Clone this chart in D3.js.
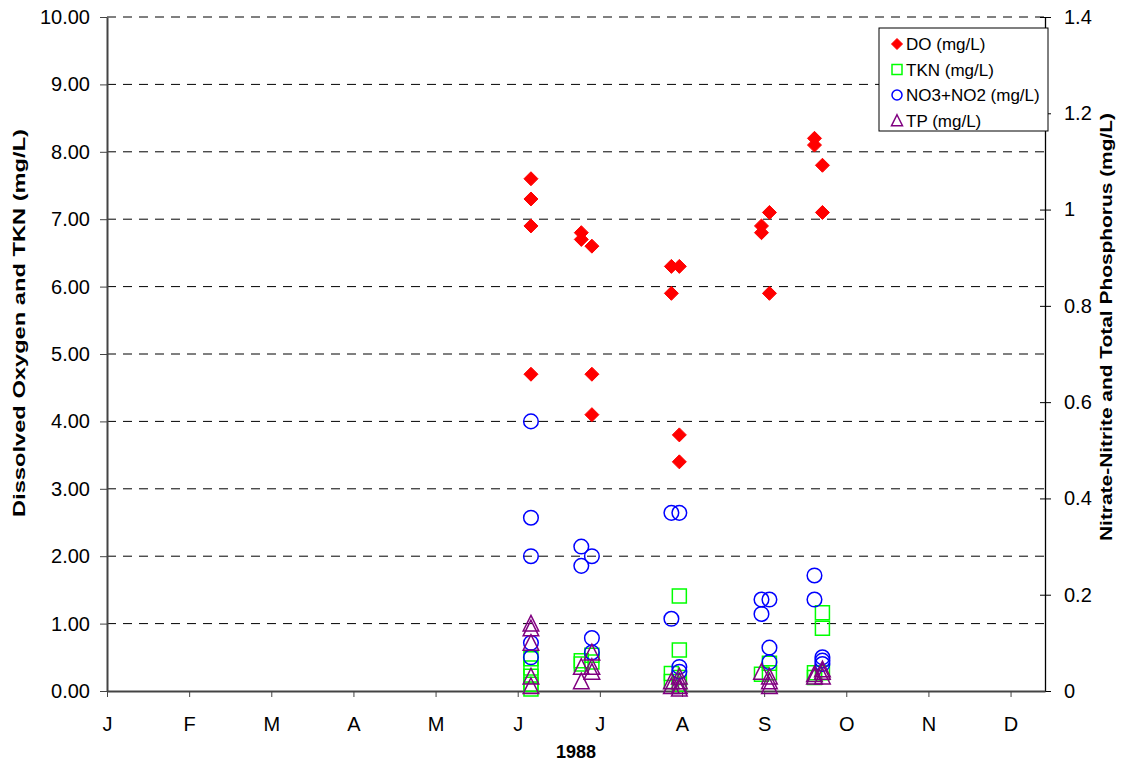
<!DOCTYPE html>
<html>
<head>
<meta charset="utf-8">
<script src="https://cdn.jsdelivr.net/npm/d3@7"></script>
<style>
  body { margin: 0; background: #fff; }
  text { font-family: "Liberation Sans", Arial, sans-serif; fill: #000; }
</style>
</head>
<body>
<svg id="chart" width="1122" height="765"></svg>
<script>
// ---- data ----
const monthLabels = ["J", "F", "M", "A", "M", "J", "J", "A", "S", "O", "N", "D"];
const leftTicks = [0, 1, 2, 3, 4, 5, 6, 7, 8, 9, 10];
const rightTicks = [0, 0.2, 0.4, 0.6, 0.8, 1, 1.2, 1.4];

// [date, value] pairs
const doData = [
  ["1988-06-09", 7.6], ["1988-06-09", 7.3], ["1988-06-09", 6.9], ["1988-06-09", 4.7],
  ["1988-06-28", 6.8], ["1988-06-28", 6.7],
  ["1988-07-02", 6.6], ["1988-07-02", 4.7], ["1988-07-02", 4.1],
  ["1988-08-01", 6.3], ["1988-08-01", 5.9],
  ["1988-08-04", 6.3], ["1988-08-04", 3.8], ["1988-08-04", 3.4],
  ["1988-09-04", 6.9], ["1988-09-04", 6.8],
  ["1988-09-07", 7.1], ["1988-09-07", 5.9],
  ["1988-09-24", 8.2], ["1988-09-24", 8.1],
  ["1988-09-27", 7.8], ["1988-09-27", 7.1]
];

const tknData = [
  ["1988-06-09", 0.48], ["1988-06-09", 0.34], ["1988-06-09", 0.22], ["1988-06-09", 0.10], ["1988-06-09", 0.03],
  ["1988-06-28", 0.45], ["1988-06-28", 0.40],
  ["1988-07-02", 0.53], ["1988-07-02", 0.43],
  ["1988-08-01", 0.26], ["1988-08-01", 0.14],
  ["1988-08-04", 1.41], ["1988-08-04", 0.61], ["1988-08-04", 0.20], ["1988-08-04", 0.10],
  ["1988-09-04", 0.25],
  ["1988-09-07", 0.41], ["1988-09-07", 0.27],
  ["1988-09-24", 0.27], ["1988-09-24", 0.20],
  ["1988-09-27", 1.16], ["1988-09-27", 0.93], ["1988-09-27", 0.27]
];

const no3Data = [
  ["1988-06-09", 0.56], ["1988-06-09", 0.36], ["1988-06-09", 0.28], ["1988-06-09", 0.10], ["1988-06-09", 0.07],
  ["1988-06-28", 0.30], ["1988-06-28", 0.26],
  ["1988-07-02", 0.28], ["1988-07-02", 0.11], ["1988-07-02", 0.08],
  ["1988-08-01", 0.37], ["1988-08-01", 0.15],
  ["1988-08-04", 0.37], ["1988-08-04", 0.05], ["1988-08-04", 0.04],
  ["1988-09-04", 0.19], ["1988-09-04", 0.16],
  ["1988-09-07", 0.19], ["1988-09-07", 0.09], ["1988-09-07", 0.06],
  ["1988-09-24", 0.24], ["1988-09-24", 0.19],
  ["1988-09-27", 0.07], ["1988-09-27", 0.063], ["1988-09-27", 0.056]
];

const tpData = [
  ["1988-06-09", 0.14], ["1988-06-09", 0.13], ["1988-06-09", 0.10], ["1988-06-09", 0.03], ["1988-06-09", 0.01],
  ["1988-06-28", 0.05], ["1988-06-28", 0.02],
  ["1988-07-02", 0.08], ["1988-07-02", 0.05], ["1988-07-02", 0.04],
  ["1988-08-01", 0.02], ["1988-08-01", 0.01],
  ["1988-08-04", 0.03], ["1988-08-04", 0.02], ["1988-08-04", 0.01], ["1988-08-04", 0.005],
  ["1988-09-04", 0.04],
  ["1988-09-07", 0.03], ["1988-09-07", 0.02], ["1988-09-07", 0.01],
  ["1988-09-24", 0.035], ["1988-09-24", 0.03],
  ["1988-09-27", 0.045], ["1988-09-27", 0.04], ["1988-09-27", 0.03]
];

// ---- layout ----
const margin = { left: 107, right: 1045, top: 17, bottom: 691 };
const tickFont = 20;
const parse = d3.timeParse("%Y-%m-%d");
const startDate = new Date(1988, 0, 1);
const endDate = new Date(1988, 11, 20);

const svg = d3.select("#chart");
svg.append("rect").attr("width", 1122).attr("height", 765).attr("fill", "#fff");

const x = d3.scaleTime().domain([startDate, endDate]).range([margin.left, margin.right]);
const yLeft = d3.scaleLinear().domain([0, 10]).range([margin.bottom, margin.top]);
const yRight = d3.scaleLinear().domain([0, 1.4]).range([margin.bottom, margin.top]);

// month ticks every 31 days like the source chart
const monthTicks = monthLabels.map((m, i) => d3.timeDay.offset(startDate, 31 * i));

// gridlines
svg.append("g")
  .selectAll("line")
  .data(leftTicks.filter(d => d > 0))
  .join("line")
  .attr("x1", margin.left)
  .attr("x2", margin.right)
  .attr("y1", d => yLeft(d))
  .attr("y2", d => yLeft(d))
  .attr("stroke", "#000")
  .attr("stroke-width", 1)
  .attr("stroke-dasharray", "9,7");

// left axis
const leftAxis = svg.append("g")
  .attr("transform", `translate(${margin.left},0)`)
  .call(d3.axisLeft(yLeft).tickValues(leftTicks).tickFormat(d3.format(".2f"))
    .tickSizeInner(7).tickSizeOuter(0).tickPadding(10));
leftAxis.select(".domain").attr("stroke", "#444").attr("stroke-width", 2);
leftAxis.selectAll(".tick line").attr("stroke", "#444");
leftAxis.selectAll(".tick text").attr("font-size", tickFont).style("font-family", "Liberation Sans, Arial, sans-serif");

// right axis
const rightAxis = svg.append("g")
  .attr("transform", `translate(${margin.right},0)`)
  .call(d3.axisRight(yRight).tickValues(rightTicks).tickFormat(d3.format("~g"))
    .tickSizeInner(6).tickSizeOuter(0).tickPadding(13));
rightAxis.select(".domain").attr("stroke", "#000").attr("stroke-width", 1.3);
rightAxis.selectAll(".tick line").attr("x1", -5).attr("stroke", "#000");
rightAxis.selectAll(".tick text").attr("font-size", tickFont).style("font-family", "Liberation Sans, Arial, sans-serif");

// bottom axis
const bottomAxis = svg.append("g")
  .attr("transform", `translate(0,${margin.bottom})`)
  .call(d3.axisBottom(x).tickValues(monthTicks).tickFormat((d, i) => monthLabels[i])
    .tickSizeInner(6).tickSizeOuter(0).tickPadding(20));
bottomAxis.select(".domain").attr("stroke", "#444").attr("stroke-width", 2);
bottomAxis.selectAll(".tick line").attr("stroke", "#444");
bottomAxis.selectAll(".tick text").attr("font-size", tickFont).style("font-family", "Liberation Sans, Arial, sans-serif");

// axis titles
svg.append("text")
  .attr("transform", "translate(25,323) rotate(-90)")
  .attr("text-anchor", "middle")
  .attr("font-size", 17)
  .attr("font-weight", "bold")
  .attr("textLength", 388)
  .attr("lengthAdjust", "spacingAndGlyphs")
  .text("Dissolved Oxygen and TKN (mg/L)");

svg.append("text")
  .attr("transform", "translate(1112,327) rotate(-90)")
  .attr("text-anchor", "middle")
  .attr("font-size", 17)
  .attr("font-weight", "bold")
  .attr("textLength", 428)
  .attr("lengthAdjust", "spacingAndGlyphs")
  .text("Nitrate-Nitrite and Total Phosphorus (mg/L)");

svg.append("text")
  .attr("x", (margin.left + margin.right) / 2)
  .attr("y", 758)
  .attr("text-anchor", "middle")
  .attr("font-size", 18)
  .attr("font-weight", "bold")
  .text("1988");

// ---- marker shapes ----
function diamondPath(r) { return `M0,${-r}L${r},0L0,${r}L${-r},0Z`; }
function squarePath(r) { return `M${-r},${-r}H${r}V${r}H${-r}Z`; }
function trianglePath(r) { return `M0,${-r * 1.05}L${r},${r * 0.95}L${-r},${r * 0.95}Z`; }

const series = [
  { name: "DO (mg/L)", data: doData, y: yLeft, kind: "diamond", color: "#ff0000" },
  { name: "TKN (mg/L)", data: tknData, y: yLeft, kind: "square", color: "#00ff00" },
  { name: "NO3+NO2 (mg/L)", data: no3Data, y: yRight, kind: "circle", color: "#0000ff" },
  { name: "TP (mg/L)", data: tpData, y: yRight, kind: "triangle", color: "#800080" }
];

function drawMarker(sel, kind, color, r) {
  if (kind === "circle") {
    sel.append("circle").attr("r", r).attr("fill", "none")
      .attr("stroke", color).attr("stroke-width", 1.5);
  } else if (kind === "diamond") {
    sel.append("path").attr("d", diamondPath(r)).attr("fill", color).attr("stroke", color);
  } else if (kind === "square") {
    sel.append("path").attr("d", squarePath(r)).attr("fill", "none")
      .attr("stroke", color).attr("stroke-width", 1.5);
  } else {
    sel.append("path").attr("d", trianglePath(r)).attr("fill", "none")
      .attr("stroke", color).attr("stroke-width", 1.5);
  }
}

const markerSize = { diamond: 7, square: 7, circle: 7.3, triangle: 7.8 };

series.forEach(s => {
  const g = svg.append("g").attr("class", "series");
  g.selectAll("g")
    .data(s.data)
    .join("g")
    .attr("transform", d => `translate(${x(parse(d[0]))},${s.y(d[1])})`)
    .each(function () { drawMarker(d3.select(this), s.kind, s.color, markerSize[s.kind]); });
});

// ---- legend ----
const legend = svg.append("g").attr("transform", "translate(879,28)");
legend.append("rect")
  .attr("width", 169).attr("height", 103)
  .attr("fill", "#fff").attr("stroke", "#000").attr("stroke-width", 1);

const legendMarker = { diamond: 5.5, square: 5, circle: 5, triangle: 5.5 };
series.forEach((s, i) => {
  const row = legend.append("g").attr("transform", `translate(0,${16 + i * 25.5})`);
  const m = row.append("g").attr("transform", "translate(18,0)");
  drawMarker(m, s.kind, s.color, legendMarker[s.kind]);
  row.append("text")
    .attr("x", 27).attr("y", 6)
    .attr("font-size", 17)
    .text(s.name);
});
</script>
</body>
</html>
